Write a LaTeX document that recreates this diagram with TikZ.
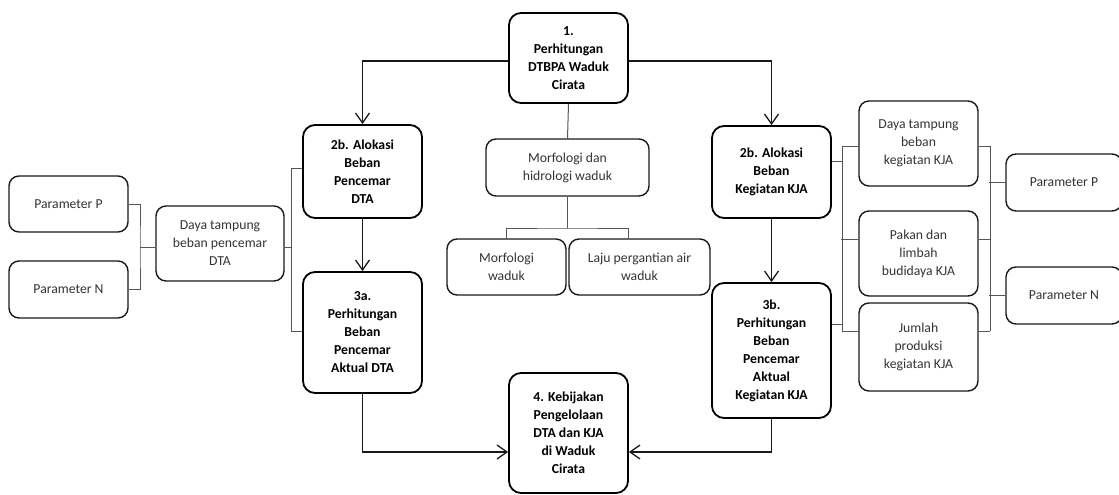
\documentclass[tikz,border=0pt]{standalone}
\usepackage{fontspec}
\setmainfont{Carlito}
\usetikzlibrary{arrows.meta}
\definecolor{txtgray}{HTML}{333333}
\definecolor{linegray}{HTML}{555555}
\begin{document}
\begin{tikzpicture}[x=1pt,y=-1pt,
  box/.style={draw, align=center, inner sep=0pt, font=\fontsize{13.7}{18}\selectfont},
  mainbox/.style={box, line width=1.8pt, rounded corners=12pt, font=\fontsize{13.7}{18}\selectfont\bfseries, text=black},
  subbox/.style={box, draw=black!90, line width=1.4pt, rounded corners=10pt, text=txtgray},
  arr/.style={line width=1.3pt, black!90, -{Straight Barb[length=10pt,width=14pt,line width=1.3pt]}},
  br/.style={line width=1pt, linegray}
]
\useasboundingbox (0,0) rectangle (1119,495);

% main boxes
\node[mainbox, minimum width=119pt, minimum height=90pt] (b1) at (568.5,58) {1.\\Perhitungan\\DTBPA Waduk\\Cirata};
\node[mainbox, minimum width=119pt, minimum height=93pt] (L2b) at (362.5,171.5) {2b. Alokasi\\Beban\\Pencemar\\DTA};
\node[mainbox, minimum width=119pt, minimum height=121pt] (L3a) at (362.5,332.5) {3a.\\Perhitungan\\Beban\\Pencemar\\Aktual DTA};
\node[mainbox, minimum width=119pt, minimum height=92pt] (R2b) at (771.5,172) {2b. Alokasi\\Beban\\Kegiatan KJA};
\node[mainbox, minimum width=119pt, minimum height=135pt] (R3b) at (771.5,350.5) {3b.\\Perhitungan\\Beban\\Pencemar\\Aktual\\Kegiatan KJA};
\node[mainbox, minimum width=119pt, minimum height=120pt] (b4) at (568.5,433) {4. Kebijakan\\Pengelolaan\\DTA dan KJA\\di Waduk\\Cirata};

% sub boxes left
\node[subbox, minimum width=119pt, minimum height=56pt] (PP) at (68.5,204) {Parameter P};
\node[subbox, minimum width=119pt, minimum height=57pt] (PN) at (68.5,289.5) {Parameter N};
\node[subbox, minimum width=128pt, minimum height=75pt] (DayaL) at (220,243.5) {Daya tampung\\beban pencemar\\DTA};

% sub boxes centre
\node[subbox, minimum width=163pt, minimum height=57pt] (MH) at (567.5,167.5) {Morfologi dan\\hidrologi waduk};
\node[subbox, minimum width=119pt, minimum height=56pt] (MW) at (506.5,267) {Morfologi\\waduk};
\node[subbox, minimum width=141pt, minimum height=56pt] (LP) at (639.5,267) {Laju pergantian air\\waduk};

% sub boxes right
\node[subbox, minimum width=119pt, minimum height=85pt] (DK) at (918.5,143.5) {Daya tampung\\beban\\kegiatan KJA};
\node[subbox, minimum width=119pt, minimum height=85pt] (PK) at (918.5,253.5) {Pakan dan\\limbah\\budidaya KJA};
\node[subbox, minimum width=119pt, minimum height=88pt] (JP) at (918.5,347) {Jumlah\\produksi\\kegiatan KJA};
\node[subbox, minimum width=116pt, minimum height=57pt] (RPP) at (1064,182.5) {Parameter P};
\node[subbox, minimum width=116pt, minimum height=57pt] (RPN) at (1064,295.5) {Parameter N};

% main arrows
\draw[arr] ([yshift=-3pt]b1.west) -| (L2b.north);
\draw[arr] ([yshift=-3pt]b1.east) -| (R2b.north);
\draw[arr] (L2b.south) -- (L3a.north);
\draw[arr] (R2b.south) -- (R3b.north);
\draw[arr] (L3a.south) |- ([yshift=-19pt]b4.west);
\draw[arr] (R3b.south) |- ([yshift=-19pt]b4.east);

% centre tree
\coordinate (mhj) at (567.5,228);
\draw[br] (b1.south) -- (MH.north);
\draw[br] (MH.south) -- (mhj);
\draw[br] (MW.north) |- (mhj) -| ([xshift=-11.5pt]LP.north);

% left brackets
\coordinate (jl) at (140,247);
\draw[br] (PP.east) -| (jl) |- (PN.east);
\draw[br] (jl) -- ([yshift=-3.5pt]DayaL.west);
\coordinate (jd) at (291,247);
\draw[br] ([yshift=-3.5pt]DayaL.east) -- (jd);
\draw[br] ([yshift=3.5pt]L2b.west) -| (jd);
\draw[br] ([yshift=1.5pt]L3a.west) -| (jd);

% right brackets
\coordinate (rt) at (842,146);
\coordinate (rb) at (842,331);
\draw[br] (rt) -- (rb);
\draw[br] ([yshift=11pt]R2b.east) -- ++(11,0);
\draw[br] ([yshift=26.5pt]R3b.east) -- ++(11,0);
\draw[br] ([yshift=-2.5pt]DK.west) -- (rt);
\draw[br] ([yshift=14.5pt]PK.west) -- ++(-17,0);
\draw[br] ([yshift=16pt]JP.west) -- (rb);

\coordinate (rt2) at (990,146);
\coordinate (rb2) at (990,331);
\draw[br] (rt2) -- (rb2);
\draw[br] ([yshift=-2.5pt]DK.east) -- (rt2);
\draw[br] ([yshift=14.5pt]PK.east) -- ++(12,0);
\draw[br] ([yshift=16pt]JP.east) -- (rb2);
\draw[br] (RPP.west) -- ++(-16,0);
\draw[br] (RPN.west) -- ++(-16,0);
\end{tikzpicture}
\end{document}
